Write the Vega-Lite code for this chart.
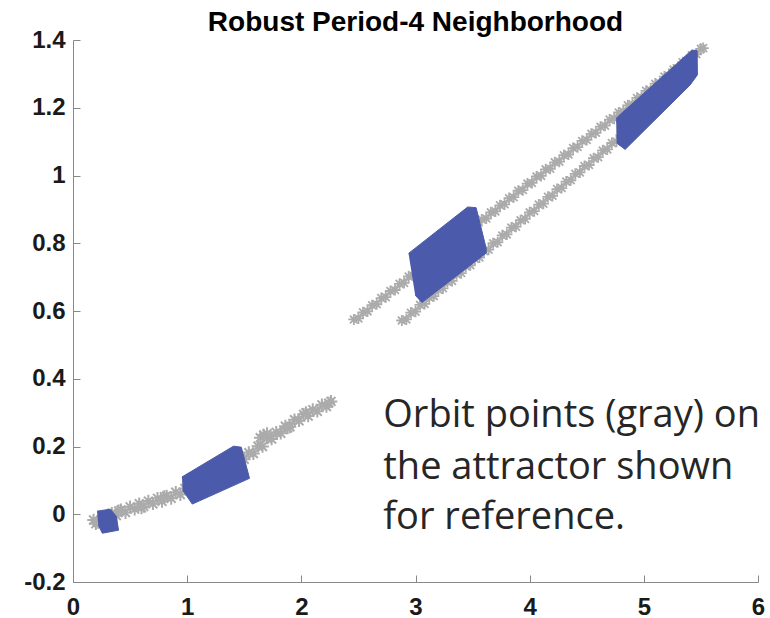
{
  "$schema": "https://vega.github.io/schema/vega-lite/v6.json",
  "width": 685,
  "height": 542,
  "autosize": {"type": "none"},
  "padding": {"left": 73, "top": 40, "right": 12, "bottom": 36},
  "background": "white",
  "title": {"text": "Robust Period-4 Neighborhood", "font": "Liberation Sans", "fontSize": 28, "fontWeight": "bold", "color": "#000000", "anchor": "middle", "frame": "group", "offset": -9},
  "config": {
    "view": {"stroke": null},
    "axis": {"grid": false, "title": null, "domainColor": "#888888", "tickColor": "#888888", "domainWidth": 1, "tickWidth": 1, "labelFont": "Liberation Sans", "labelFontSize": 24, "labelFontWeight": "bold", "labelColor": "#1a1a1a", "labelOverlap": false, "labelFlush": false}
  },
  "datasets": {
    "orbit": [
      {"b":"c","x":0.18,"y":-0.017},{"b":"c","x":0.22,"y":-0.024},{"b":"c","x":0.26,"y":-0.007},{"b":"c","x":0.30,"y":-0.014},{"b":"c","x":0.34,"y":0.003},{"b":"c","x":0.38,"y":-0.004},{"b":"c","x":0.42,"y":0.013},{"b":"c","x":0.46,"y":0.005},{"b":"c","x":0.50,"y":0.022},{"b":"c","x":0.54,"y":0.015},{"b":"c","x":0.58,"y":0.031},{"b":"c","x":0.62,"y":0.023},{"b":"c","x":0.66,"y":0.039},{"b":"c","x":0.70,"y":0.031},{"b":"c","x":0.74,"y":0.047},{"b":"c","x":0.78,"y":0.038},{"b":"c","x":0.82,"y":0.054},{"b":"c","x":0.86,"y":0.047},{"b":"c","x":0.90,"y":0.065},{"b":"c","x":0.94,"y":0.058},{"b":"c","x":0.98,"y":0.076},{"b":"c","x":1.02,"y":0.071},{"b":"c","x":1.06,"y":0.090},{"b":"c","x":1.10,"y":0.085},{"b":"c","x":1.14,"y":0.105},{"b":"c","x":1.18,"y":0.100},{"b":"c","x":1.22,"y":0.120},{"b":"c","x":1.26,"y":0.115},{"b":"c","x":1.30,"y":0.135},{"b":"c","x":1.34,"y":0.131},{"b":"c","x":1.38,"y":0.150},{"b":"c","x":1.42,"y":0.146},{"b":"c","x":1.46,"y":0.166},{"b":"c","x":1.50,"y":0.162},{"b":"c","x":1.54,"y":0.182},{"b":"c","x":1.58,"y":0.179},{"b":"c","x":1.62,"y":0.201},{"b":"c","x":1.66,"y":0.200},{"b":"c","x":1.70,"y":0.225},{"b":"c","x":1.74,"y":0.222},{"b":"c","x":1.78,"y":0.242},{"b":"c","x":1.82,"y":0.239},{"b":"c","x":1.86,"y":0.260},{"b":"c","x":1.90,"y":0.258},{"b":"c","x":1.94,"y":0.279},{"b":"c","x":1.98,"y":0.276},{"b":"c","x":2.02,"y":0.295},{"b":"c","x":2.06,"y":0.290},{"b":"c","x":2.10,"y":0.309},{"b":"c","x":2.14,"y":0.304},{"b":"c","x":2.18,"y":0.323},{"b":"c","x":2.22,"y":0.318},{"b":"c","x":2.26,"y":0.333},
      {"b":"c","x":0.20,"y":-0.028},{"b":"c","x":0.40,"y":0.010},{"b":"c","x":0.60,"y":0.019},{"b":"c","x":0.80,"y":0.052},{"b":"c","x":1.64,"y":0.226},{"b":"c","x":1.67,"y":0.234},{"b":"c","x":1.70,"y":0.238},{"b":"c","x":1.88,"y":0.255},{"b":"c","x":2.04,"y":0.300},{"b":"c","x":2.24,"y":0.328},
      {"b":"u","x":2.46,"y":0.575},{"b":"u","x":2.50,"y":0.578},{"b":"u","x":2.54,"y":0.596},{"b":"u","x":2.58,"y":0.599},{"b":"u","x":2.62,"y":0.617},{"b":"u","x":2.66,"y":0.620},{"b":"u","x":2.70,"y":0.638},{"b":"u","x":2.74,"y":0.641},{"b":"u","x":2.78,"y":0.659},{"b":"u","x":2.82,"y":0.662},{"b":"u","x":2.86,"y":0.680},{"b":"u","x":2.90,"y":0.683},{"b":"u","x":2.94,"y":0.702},{"b":"u","x":2.98,"y":0.704},{"b":"u","x":3.02,"y":0.723},{"b":"u","x":3.06,"y":0.725},{"b":"u","x":3.10,"y":0.744},{"b":"u","x":3.14,"y":0.746},{"b":"u","x":3.18,"y":0.765},{"b":"u","x":3.22,"y":0.767},{"b":"u","x":3.26,"y":0.786},{"b":"u","x":3.30,"y":0.788},{"b":"u","x":3.34,"y":0.807},{"b":"u","x":3.38,"y":0.809},{"b":"u","x":3.42,"y":0.828},{"b":"u","x":3.46,"y":0.831},{"b":"u","x":3.50,"y":0.849},{"b":"u","x":3.54,"y":0.852},{"b":"u","x":3.58,"y":0.870},{"b":"u","x":3.62,"y":0.873},{"b":"u","x":3.66,"y":0.891},{"b":"u","x":3.70,"y":0.894},{"b":"u","x":3.74,"y":0.912},{"b":"u","x":3.78,"y":0.915},{"b":"u","x":3.82,"y":0.933},{"b":"u","x":3.86,"y":0.936},{"b":"u","x":3.90,"y":0.955},{"b":"u","x":3.94,"y":0.957},{"b":"u","x":3.98,"y":0.976},{"b":"u","x":4.02,"y":0.978},{"b":"u","x":4.06,"y":0.997},{"b":"u","x":4.10,"y":0.999},{"b":"u","x":4.14,"y":1.018},{"b":"u","x":4.18,"y":1.020},{"b":"u","x":4.22,"y":1.039},{"b":"u","x":4.26,"y":1.041},{"b":"u","x":4.30,"y":1.060},{"b":"u","x":4.34,"y":1.062},{"b":"u","x":4.38,"y":1.081},{"b":"u","x":4.42,"y":1.084},{"b":"u","x":4.46,"y":1.102},{"b":"u","x":4.50,"y":1.105},{"b":"u","x":4.54,"y":1.123},{"b":"u","x":4.58,"y":1.126},{"b":"u","x":4.62,"y":1.144},{"b":"u","x":4.66,"y":1.147},{"b":"u","x":4.70,"y":1.165},{"b":"u","x":4.74,"y":1.168},{"b":"u","x":4.78,"y":1.186},{"b":"u","x":4.82,"y":1.189},{"b":"u","x":4.86,"y":1.207},{"b":"u","x":4.90,"y":1.210},{"b":"u","x":4.94,"y":1.229},{"b":"u","x":4.98,"y":1.231},{"b":"u","x":5.02,"y":1.250},{"b":"u","x":5.06,"y":1.252},{"b":"u","x":5.10,"y":1.271},{"b":"u","x":5.14,"y":1.273},{"b":"u","x":5.18,"y":1.292},{"b":"u","x":5.22,"y":1.294},{"b":"u","x":5.26,"y":1.313},{"b":"u","x":5.30,"y":1.315},{"b":"u","x":5.34,"y":1.334},{"b":"u","x":5.38,"y":1.337},{"b":"u","x":5.42,"y":1.355},{"b":"u","x":5.46,"y":1.358},{"b":"u","x":5.50,"y":1.374},{"b":"u","x":5.52,"y":1.376},
      {"b":"l","x":2.88,"y":0.572},{"b":"l","x":2.92,"y":0.575},{"b":"l","x":2.96,"y":0.595},{"b":"l","x":3.00,"y":0.598},{"b":"l","x":3.04,"y":0.618},{"b":"l","x":3.08,"y":0.621},{"b":"l","x":3.12,"y":0.640},{"b":"l","x":3.16,"y":0.644},{"b":"l","x":3.20,"y":0.663},{"b":"l","x":3.24,"y":0.667},{"b":"l","x":3.28,"y":0.686},{"b":"l","x":3.32,"y":0.689},{"b":"l","x":3.36,"y":0.709},{"b":"l","x":3.40,"y":0.712},{"b":"l","x":3.44,"y":0.732},{"b":"l","x":3.48,"y":0.735},{"b":"l","x":3.52,"y":0.754},{"b":"l","x":3.56,"y":0.758},{"b":"l","x":3.60,"y":0.777},{"b":"l","x":3.64,"y":0.781},{"b":"l","x":3.68,"y":0.800},{"b":"l","x":3.72,"y":0.803},{"b":"l","x":3.76,"y":0.823},{"b":"l","x":3.80,"y":0.826},{"b":"l","x":3.84,"y":0.846},{"b":"l","x":3.88,"y":0.849},{"b":"l","x":3.92,"y":0.868},{"b":"l","x":3.96,"y":0.872},{"b":"l","x":4.00,"y":0.891},{"b":"l","x":4.04,"y":0.895},{"b":"l","x":4.08,"y":0.914},{"b":"l","x":4.12,"y":0.917},{"b":"l","x":4.16,"y":0.937},{"b":"l","x":4.20,"y":0.940},{"b":"l","x":4.24,"y":0.960},{"b":"l","x":4.28,"y":0.963},{"b":"l","x":4.32,"y":0.982},{"b":"l","x":4.36,"y":0.986},{"b":"l","x":4.40,"y":1.005},{"b":"l","x":4.44,"y":1.009},{"b":"l","x":4.48,"y":1.028},{"b":"l","x":4.52,"y":1.031},{"b":"l","x":4.56,"y":1.051},{"b":"l","x":4.60,"y":1.054},{"b":"l","x":4.64,"y":1.074},{"b":"l","x":4.68,"y":1.077},{"b":"l","x":4.72,"y":1.096},{"b":"l","x":4.76,"y":1.100},{"b":"l","x":4.80,"y":1.119},{"b":"l","x":4.84,"y":1.123}
    ],
    "poly": [
      {"p":1,"o":0,"x":0.210,"y":0.009},{"p":1,"o":1,"x":0.327,"y":0.015},{"p":1,"o":2,"x":0.379,"y":-0.006},{"p":1,"o":3,"x":0.399,"y":-0.047},{"p":1,"o":4,"x":0.257,"y":-0.056},{"p":1,"o":5,"x":0.222,"y":-0.032},
      {"p":2,"o":0,"x":0.954,"y":0.110},{"p":2,"o":1,"x":1.406,"y":0.201},{"p":2,"o":2,"x":1.474,"y":0.198},{"p":2,"o":3,"x":1.546,"y":0.106},{"p":2,"o":4,"x":1.045,"y":0.030},{"p":2,"o":5,"x":0.961,"y":0.071},
      {"p":3,"o":0,"x":2.939,"y":0.770},{"p":3,"o":1,"x":3.457,"y":0.907},{"p":3,"o":2,"x":3.531,"y":0.905},{"p":3,"o":3,"x":3.619,"y":0.785},{"p":3,"o":4,"x":3.619,"y":0.771},{"p":3,"o":5,"x":3.056,"y":0.625},{"p":3,"o":6,"x":2.997,"y":0.647},
      {"p":4,"o":0,"x":4.757,"y":1.169},{"p":4,"o":1,"x":5.420,"y":1.370},{"p":4,"o":2,"x":5.467,"y":1.369},{"p":4,"o":3,"x":5.469,"y":1.297},{"p":4,"o":4,"x":5.405,"y":1.267},{"p":4,"o":5,"x":4.836,"y":1.077},{"p":4,"o":6,"x":4.762,"y":1.096}
    ],
    "note": [
      {"label":"Orbit points (gray) on","x":2.718,"y":0.258},
      {"label":"the attractor shown","x":2.718,"y":0.1055},
      {"label":"for reference.","x":2.718,"y":-0.045}
    ]
  },
  "encoding": {
    "x": {"field": "x", "type": "quantitative", "scale": {"domain": [0, 6], "nice": false, "zero": false}, "axis": {"values": [0,1,2,3,4,5,6], "tickSize": -7, "labelPadding": 20, "format": "~g"}},
    "y": {"field": "y", "type": "quantitative", "scale": {"domain": [-0.2, 1.4], "nice": false, "zero": false}, "axis": {"values": [-0.2,0,0.2,0.4,0.6,0.8,1,1.2,1.4], "tickSize": -7, "labelPadding": 15, "labelExpr": "datum.value < 0 ? '-0.2' : format(datum.value, '~g')"}}
  },
  "layer": [
    {"data": {"name": "orbit"}, "transform": [{"filter": "datum.b == 'c'"}], "mark": {"type": "point", "shape": "M-1,0L1,0M0,-1L0,1M-0.7,-0.7L0.7,0.7M-0.7,0.7L0.7,-0.7", "filled": false, "stroke": "#ababab", "strokeWidth": 2, "size": 160, "opacity": 1}},
    {"data": {"name": "orbit"}, "transform": [{"filter": "datum.b != 'c'"}], "mark": {"type": "point", "shape": "M-1,0L1,0M0,-1L0,1M-0.7,-0.7L0.7,0.7M-0.7,0.7L0.7,-0.7", "filled": false, "stroke": "#ababab", "strokeWidth": 1.8, "size": 125, "opacity": 1}},
    {"data": {"name": "poly"}, "mark": {"type": "line", "fill": "#4B5AAA", "stroke": "#4B5AAA", "strokeWidth": 1, "strokeJoin": "round"}, "encoding": {"detail": {"field": "p"}, "order": {"field": "o", "type": "quantitative"}}},
    {"data": {"name": "note"}, "mark": {"type": "text", "font": "Open Sans", "fontSize": 38, "align": "left", "baseline": "alphabetic", "color": "#262626"}, "encoding": {"text": {"field": "label"}}}
  ]
}
